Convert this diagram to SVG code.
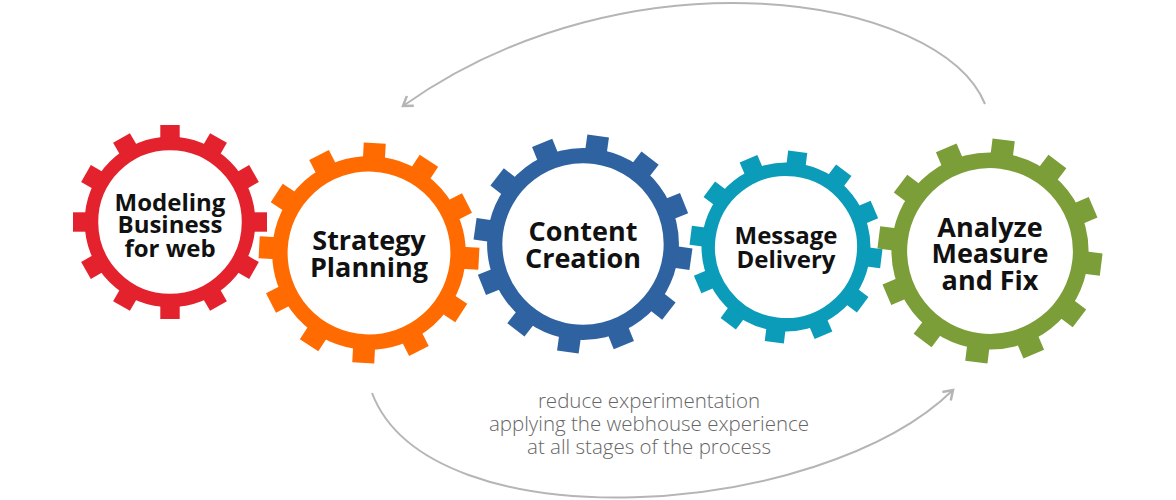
<svg xmlns="http://www.w3.org/2000/svg" xmlns:xlink="http://www.w3.org/1999/xlink" width="1176" height="500" viewBox="0 0 1176 500">
  <style>
    .lbl { font-family: "Open Sans", "Liberation Sans", sans-serif; font-weight: 700; fill: #111; text-anchor: middle; }
    .sub { font-family: "Open Sans", "Liberation Sans", sans-serif; font-size: 20.5px; font-weight: 300; fill: #666; text-anchor: middle; }
    .arc { fill: none; stroke: #b5b5b5; stroke-width: 2; }
  </style>
  <defs>
    <rect id="tooth" x="-10" y="-100" width="20" height="16" fill="currentColor"/>
    <g id="gear">
      <circle r="81" fill="#fff" stroke="currentColor" stroke-width="14"/>
      <use href="#tooth" transform="rotate(0)"/>
      <use href="#tooth" transform="rotate(30)"/>
      <use href="#tooth" transform="rotate(60)"/>
      <use href="#tooth" transform="rotate(90)"/>
      <use href="#tooth" transform="rotate(120)"/>
      <use href="#tooth" transform="rotate(150)"/>
      <use href="#tooth" transform="rotate(180)"/>
      <use href="#tooth" transform="rotate(210)"/>
      <use href="#tooth" transform="rotate(240)"/>
      <use href="#tooth" transform="rotate(270)"/>
      <use href="#tooth" transform="rotate(300)"/>
      <use href="#tooth" transform="rotate(330)"/>
    </g>
    <marker id="chev" markerWidth="14" markerHeight="14" refX="11" refY="7" orient="auto" markerUnits="userSpaceOnUse">
      <path d="M2,1 L11,7 L2,13" fill="none" stroke="#b5b5b5" stroke-width="2.5"/>
    </marker>
  </defs>

  <g id="connectors">
    <path class="arc" d="M985,104 C940,-5 630,-55 403,106" marker-end="url(#chev)"/>
    <path class="arc" d="M372,393 C430,545 820,520 953,390" marker-end="url(#chev)"/>
  </g>

  <g id="gear-modeling">
    <use href="#gear" style="color:#e3222d" transform="translate(170,222) scale(0.97)"/>
    <text class="lbl" font-size="24" x="170" y="211">Modeling</text>
    <text class="lbl" font-size="24" x="170" y="233">Business</text>
    <text class="lbl" font-size="24" x="170" y="257">for web</text>
  </g>

  <g id="gear-strategy">
    <use href="#gear" style="color:#ff6b00" transform="translate(369,253) rotate(3) scale(1.1)"/>
    <text class="lbl" font-size="27" x="369" y="250">Strategy</text>
    <text class="lbl" font-size="27" x="369" y="277">Planning</text>
  </g>

  <g id="gear-content">
    <use href="#gear" style="color:#2e62a1" transform="translate(583,244) rotate(8) scale(1.09)"/>
    <text class="lbl" font-size="27" x="583" y="241">Content</text>
    <text class="lbl" font-size="27" x="583" y="268">Creation</text>
  </g>

  <g id="gear-message">
    <use href="#gear" style="color:#0a9cb8" transform="translate(786,247) rotate(7) scale(0.96)"/>
    <text class="lbl" font-size="24" x="786" y="244">Message</text>
    <text class="lbl" font-size="24" x="786" y="268">Delivery</text>
  </g>

  <g id="gear-analyze">
    <use href="#gear" style="color:#7b9e38" transform="translate(990,251) rotate(7) scale(1.12)"/>
    <text class="lbl" font-size="27" x="990" y="237">Analyze</text>
    <text class="lbl" font-size="27" x="990" y="263">Measure</text>
    <text class="lbl" font-size="27" x="990" y="290">and Fix</text>
  </g>

  <g id="caption">
    <text class="sub" x="649" y="408">reduce experimentation</text>
    <text class="sub" x="649" y="431">applying the webhouse experience</text>
    <text class="sub" x="649" y="454">at all stages of the process</text>
  </g>
</svg>
